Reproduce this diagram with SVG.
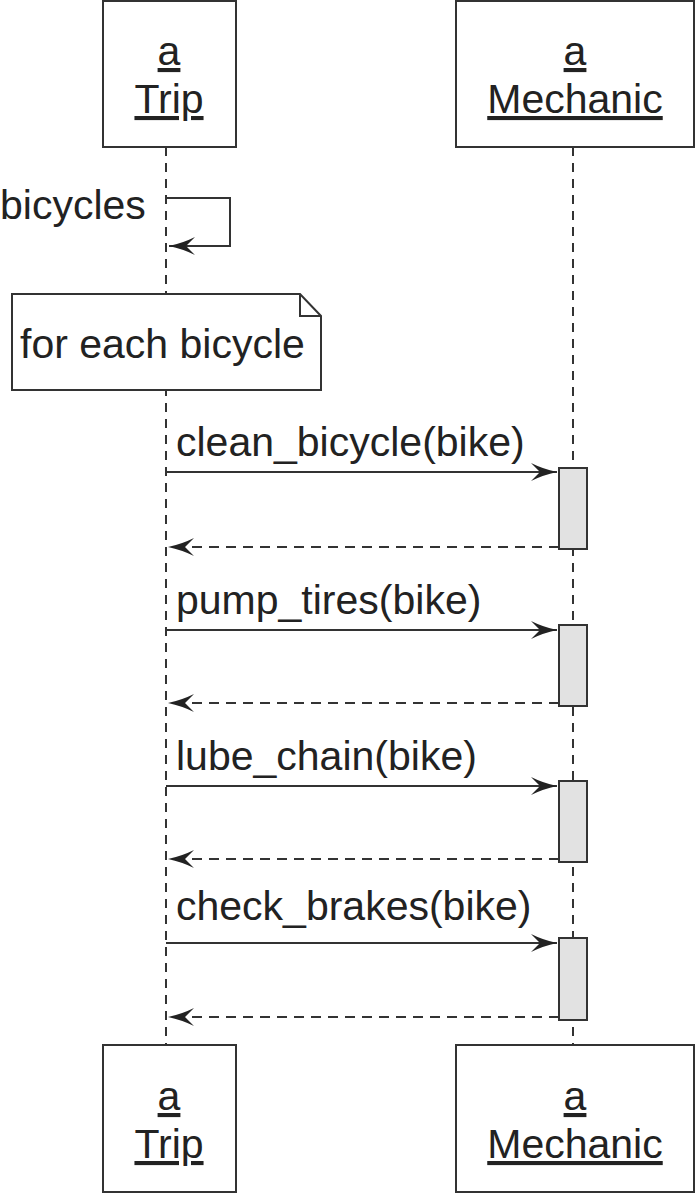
<svg xmlns="http://www.w3.org/2000/svg" width="700" height="1200" viewBox="0 0 700 1200">
<style>
.box{fill:#fff;stroke:#333;stroke-width:2}
.act{fill:#e2e2e2;stroke:#333;stroke-width:2}
.life{stroke:#333;stroke-width:2;stroke-dasharray:9 7;fill:none}
.msg{stroke:#333;stroke-width:2;fill:none}
.ret{stroke:#333;stroke-width:2;stroke-dasharray:10 7;fill:none}
text{font-family:"Liberation Sans",Arial,sans-serif;font-size:41px;fill:#222}
.c{text-anchor:middle;text-decoration:underline}
</style>
<defs>
<marker id="arr" markerUnits="userSpaceOnUse" viewBox="-30 -12 32 24" refX="0" refY="0" markerWidth="32" markerHeight="24" orient="auto">
<path d="M0,0 Q-14,-3 -26,-9 L-17,0 L-26,9 Q-14,3 0,0 Z" fill="#222"/>
</marker>
</defs>
<g id="connectors">
<line class="life" x1="166" y1="147" x2="166" y2="1045"/>
<line class="life" x1="573" y1="147" x2="573" y2="1045"/>
<path class="msg" d="M166,198 H230 V246 H169" marker-end="url(#arr)"/>
<line class="msg" x1="166" y1="472" x2="557" y2="472" marker-end="url(#arr)"/>
<line class="ret" x1="559" y1="547" x2="168" y2="547" marker-end="url(#arr)"/>
<line class="msg" x1="166" y1="630" x2="557" y2="630" marker-end="url(#arr)"/>
<line class="ret" x1="559" y1="703" x2="168" y2="703" marker-end="url(#arr)"/>
<line class="msg" x1="166" y1="786" x2="557" y2="786" marker-end="url(#arr)"/>
<line class="ret" x1="559" y1="859" x2="168" y2="859" marker-end="url(#arr)"/>
<line class="msg" x1="166" y1="943" x2="557" y2="943" marker-end="url(#arr)"/>
<line class="ret" x1="559" y1="1017" x2="168" y2="1017" marker-end="url(#arr)"/>
<text x="0" y="219">bicycles</text>
<text x="176" y="456">clean_bicycle(bike)</text>
<text x="176" y="614">pump_tires(bike)</text>
<text x="176" y="770">lube_chain(bike)</text>
<text x="176" y="920">check_brakes(bike)</text>
</g>
<g id="trip-top">
<rect class="box" x="103" y="1" width="133" height="146"/>
<text class="c" x="169" y="65">a</text>
<text class="c" x="169" y="113">Trip</text>
</g>
<g id="mechanic-top">
<rect class="box" x="456" y="1" width="238" height="146"/>
<text class="c" x="575" y="65">a</text>
<text class="c" x="575" y="113">Mechanic</text>
</g>
<g id="note">
<path class="box" d="M12,294 H300 L321,316 V390 H12 Z"/>
<path class="msg" d="M300,294 V316 H321"/>
<text x="20" y="358">for each bicycle</text>
</g>
<g id="activations">
<rect class="act" x="559" y="468" width="28" height="81"/>
<rect class="act" x="559" y="625" width="28" height="81"/>
<rect class="act" x="559" y="781" width="28" height="81"/>
<rect class="act" x="559" y="938" width="28" height="82"/>
</g>
<g id="trip-bottom">
<rect class="box" x="103" y="1045" width="133" height="147"/>
<text class="c" x="169" y="1110">a</text>
<text class="c" x="169" y="1158">Trip</text>
</g>
<g id="mechanic-bottom">
<rect class="box" x="456" y="1045" width="238" height="147"/>
<text class="c" x="575" y="1110">a</text>
<text class="c" x="575" y="1158">Mechanic</text>
</g>
</svg>
